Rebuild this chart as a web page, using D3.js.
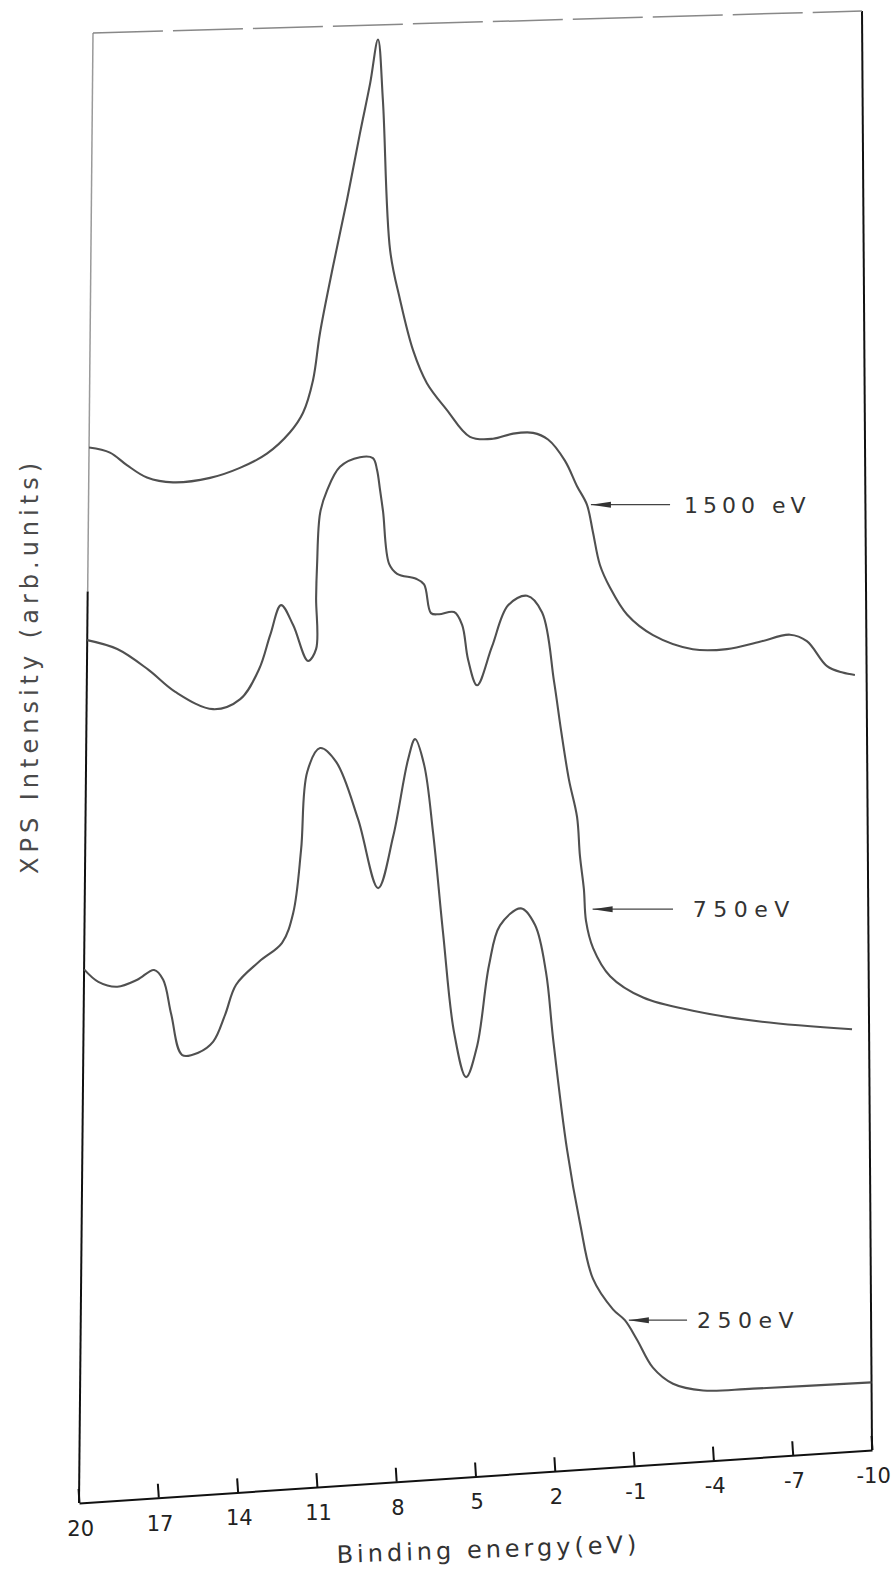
<!DOCTYPE html>
<html>
<head>
<meta charset="utf-8">
<script src="https://cdn.jsdelivr.net/npm/d3@7"></script>
<style>
  body { margin: 0; background: #fff; }
  svg { display: block; }
  .curve { fill: none; stroke: #505050; stroke-width: 2.1; stroke-linejoin: round; }
  .frame { stroke: #111; stroke-width: 2; fill: none; }
  .axis text { font-family: "DejaVu Sans", sans-serif; font-size: 21px; fill: #222; }
  .axis line, .axis path { stroke: #111; stroke-width: 2; }
  .lbl { font-family: "DejaVu Sans", sans-serif; fill: #333; }
</style>
</head>
<body>
<div class="graph"></div>
<script>
// XPS spectra, binding energy (eV) vs intensity (arb. units, 0 = bottom, 100 = top of frame)
var energy1500 = [20, 19.19, 18.53, 17.75, 16.74, 15.31, 14.16, 13.12, 12.23, 11.73, 11.35, 11.09, 10.60, 10.06, 9.57, 9.18, 8.88, 8.68, 8.38, 7.99, 7.48, 6.94, 6.16, 5.27, 4.38, 3.60, 2.83, 2.25, 1.60, 1.13, 0.75, 0.52, 0.25, -0.14, -0.79, -1.79, -3.32, -4.63, -5.90, -7.06, -7.71, -8.48, -9.08, -9.55];
var intensity1500 = [71.8, 71.4, 70.5, 69.6, 69.2, 69.4, 70.0, 70.9, 72.3, 73.6, 75.8, 79.0, 83.5, 88.1, 92.6, 96.0, 99.0, 94.8, 84.5, 81.1, 77.6, 75.3, 73.4, 71.5, 71.3, 71.6, 71.6, 71.1, 69.6, 67.8, 66.5, 64.6, 62.3, 60.7, 58.8, 57.3, 56.2, 56.1, 56.5, 56.9, 56.4, 54.6, 54.1, 53.9];

var energy750 = [20, 18.84, 17.64, 16.59, 15.13, 14.09, 13.37, 12.95, 12.54, 12.07, 11.49, 11.18, 11.19, 11.16, 11.05, 10.79, 10.29, 9.52, 9.02, 8.86, 8.74, 8.62, 8.38, 8.07, 7.34, 7.03, 6.76, 6.45, 5.87, 5.56, 5.33, 4.98, 4.41, 3.79, 3.06, 2.48, 2.02, 1.75, 1.45, 1.14, 1.03, 0.88, 0.80, 0.53, -0.12, -1.38, -3.28, -5.84, -9.35];
var intensity750 = [58.7, 58.0, 56.5, 54.9, 53.6, 54.2, 56.2, 58.5, 60.5, 59.1, 56.6, 57.4, 60.9, 63.1, 66.7, 68.2, 69.8, 70.4, 70.3, 69.5, 68.1, 66.6, 63.0, 62.3, 61.9, 61.5, 59.5, 59.4, 59.5, 58.6, 56.2, 54.4, 57.0, 59.8, 60.4, 59.2, 54.4, 51.0, 47.6, 45.0, 42.3, 40.0, 37.8, 35.9, 33.9, 32.3, 31.2, 30.2, 29.3];

var energy250 = [20, 19.45, 18.72, 17.96, 17.32, 16.97, 16.65, 16.22, 15.61, 15.04, 14.59, 14.18, 13.30, 12.43, 12.01, 11.72, 11.50, 11.01, 10.39, 9.54, 8.76, 8.19, 7.63, 7.36, 7.01, 6.66, 6.27, 5.84, 5.38, 4.96, 4.51, 4.09, 3.29, 2.75, 2.33, 2.06, 1.53, 1.04, 0.55, -0.21, -0.66, -1.12, -1.72, -2.48, -3.62, -5.51, -10];
var intensity250 = [36.3, 35.4, 35.0, 35.4, 36.0, 35.3, 32.9, 30.1, 30.2, 30.9, 32.7, 34.7, 36.2, 37.4, 39.4, 43.7, 49.0, 50.6, 49.6, 45.6, 40.8, 44.3, 49.5, 50.9, 49.1, 44.4, 37.5, 30.6, 27.5, 29.6, 35.1, 37.8, 38.9, 37.7, 34.4, 29.8, 22.1, 17.0, 13.1, 10.9, 10.1, 8.7, 6.7, 5.5, 4.9, 4.8, 4.7];

var tickValues = [20, 17, 14, 11, 8, 5, 2, -1, -4, -7, -10];

// curve labels with their arrows
var labelNames = ["1500 eV", "750eV", "250eV"];
var arrowTipEnergy = [0.75, 0.7, -0.66];
var arrowTipIntensity = [66.5, 38.6, 10.1];
var arrowTailEnergy = [-2.46, -2.53, -3.02];
var labelEnergy = [-3.0, -3.29, -3.40];

var width = 893, height = 1576;

// the scanned frame is not square, so corners of the plot box are given
// and points are placed by bilinear interpolation inside it
var corners = {
    bl: [79, 1503],
    br: [872, 1450],
    tl: [93, 33],
    tr: [862, 11]
};

var x = d3.scaleLinear().domain([20, -10]).range([0, 1]);
var y = d3.scaleLinear().domain([0, 100]).range([0, 1]);

function project(e, i) {
    var u = x(e), v = y(i);
    var c = corners;
    return [
        (1 - u) * (1 - v) * c.bl[0] + u * (1 - v) * c.br[0] + (1 - u) * v * c.tl[0] + u * v * c.tr[0],
        (1 - u) * (1 - v) * c.bl[1] + u * (1 - v) * c.br[1] + (1 - u) * v * c.tl[1] + u * v * c.tr[1]
    ];
}

var svg = d3.select(".graph")
    .append("svg")
        .attr("width", width)
        .attr("height", height);

svg.append("rect").attr("width", width).attr("height", height).attr("fill", "#fff");

// frame: left (faded at the top like the scan), right, top
var tl = project(20, 100), bl = project(20, 0), tr = project(-10, 100), br = project(-10, 0);
var lm = project(20, 62);
svg.append("line").attr("class", "frame")
    .attr("x1", tl[0]).attr("y1", tl[1]).attr("x2", lm[0]).attr("y2", lm[1])
    .style("stroke", "#9a9a9a").style("stroke-width", 1.5);
svg.append("line").attr("class", "frame")
    .attr("x1", lm[0]).attr("y1", lm[1]).attr("x2", bl[0]).attr("y2", bl[1]);
svg.append("line").attr("class", "frame")
    .attr("x1", tr[0]).attr("y1", tr[1]).attr("x2", br[0]).attr("y2", br[1]);
svg.append("line").attr("class", "frame")
    .attr("x1", tl[0]).attr("y1", tl[1]).attr("x2", tr[0]).attr("y2", tr[1])
    .style("stroke", "#888").style("stroke-width", 1.5).style("stroke-dasharray", "70 10");

// bottom axis, laid along the tilted bottom edge
var axisLen = Math.hypot(br[0] - bl[0], br[1] - bl[1]);
var angle = Math.atan2(br[1] - bl[1], br[0] - bl[0]) * 180 / Math.PI;
var xAxisScale = d3.scaleLinear().domain([20, -10]).range([0, axisLen]);

var axisG = svg.append("g")
    .attr("class", "axis")
    .attr("transform", "translate(" + bl[0] + "," + bl[1] + ") rotate(" + angle + ")")
    .call(d3.axisBottom(xAxisScale)
        .tickValues(tickValues)
        .tickSize(-14)
        .tickSizeOuter(0)
        .tickPadding(18)
        .tickFormat(function(d) { return d < 0 ? "-" + Math.abs(d) : d; }));

axisG.selectAll(".tick text")
    .attr("transform", "rotate(" + (-angle) + " 0 18)");

// curves
var line = d3.line()
    .x(function(d) { return project(d[0], d[1])[0]; })
    .y(function(d) { return project(d[0], d[1])[1]; })
    .curve(d3.curveCatmullRom.alpha(0.5));

var series = [
    d3.zip(energy1500, intensity1500),
    d3.zip(energy750, intensity750),
    d3.zip(energy250, intensity250)
];

svg.selectAll(".curve")
    .data(series)
    .enter().append("path")
        .attr("class", "curve")
        .attr("d", line);

// arrows and labels
labelNames.forEach(function(name, k) {
    var tip = project(arrowTipEnergy[k], arrowTipIntensity[k]);
    var tailX = project(arrowTailEnergy[k], arrowTipIntensity[k])[0];
    var textX = project(labelEnergy[k], arrowTipIntensity[k])[0];
    var tx = tip[0] + 4, ty = tip[1];

    svg.append("line")
        .attr("x1", tx).attr("y1", ty)
        .attr("x2", tailX).attr("y2", ty)
        .attr("stroke", "#444").attr("stroke-width", 1.3);
    svg.append("path")
        .attr("d", "M" + tx + "," + ty + "L" + (tx + 20) + "," + (ty - 3) + "L" + (tx + 20) + "," + (ty + 3) + "Z")
        .attr("fill", "#333");
    svg.append("text")
        .attr("class", "lbl")
        .attr("x", textX)
        .attr("y", ty)
        .attr("dy", "0.36em")
        .style("font-size", "22px")
        .style("letter-spacing", k === 0 ? "5px" : "6.5px")
        .text(name);
});

// axis titles
var xt = project(4.5, 0);
svg.append("text")
    .attr("class", "lbl")
    .attr("transform", "translate(" + xt[0] + "," + (xt[1] + 82) + ") rotate(-2)")
    .style("text-anchor", "middle")
    .style("font-size", "24px")
    .style("letter-spacing", "4px")
    .text("Binding energy(eV)");

svg.append("text")
    .attr("class", "lbl")
    .attr("transform", "translate(38,666) rotate(-90)")
    .style("text-anchor", "middle")
    .style("font-size", "24px")
    .style("letter-spacing", "5px")
    .style("fill", "#4a4a4a")
    .text("XPS Intensity (arb.units)");
</script>
</body>
</html>
